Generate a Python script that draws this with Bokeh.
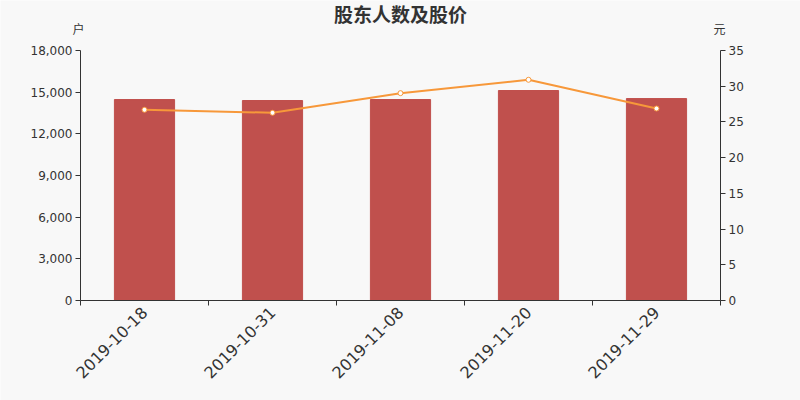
import numpy as np
from bokeh.plotting import figure
from bokeh.models import (Range1d, LinearAxis, FixedTicker, NumeralTickFormatter, Label)
from bokeh.embed import file_html
from bokeh.resources import INLINE

title_text = "股东人数及股价"
left_unit = "户"
right_unit = "元"
dates = ["2019-10-18", "2019-10-31", "2019-11-08", "2019-11-20", "2019-11-29"]
holders = [14470, 14400, 14470, 15120, 14540]
prices = [26.7, 26.28, 29.03, 30.9, 26.88]
left_ticks = [0, 3000, 6000, 9000, 12000, 15000, 18000]
right_ticks = [0, 5, 10, 15, 20, 25, 30, 35]

n = len(dates)
xc = [i + 0.5 for i in range(n)]

BG = "#f8f8f8"
AX = "#333333"
FONT = "DejaVu Sans"
CJK = "Noto Sans CJK SC"

LMAX, RMAX = 18000, 35
PX_L = LMAX / 250.0
PX_R = RMAX / 250.0
PX_X = n / 640.0

p = figure(width=800, height=400, output_backend="svg", toolbar_location=None,
           x_range=Range1d(-80 * PX_X, n + 80 * PX_X),
           y_range=Range1d(-100 * PX_L, LMAX + 50 * PX_L),
           min_border_left=0, min_border_right=0, min_border_top=0, min_border_bottom=0,
           background_fill_color=BG, border_fill_color=BG, outline_line_color=None)
p.xaxis.visible = False
p.yaxis.visible = False
p.xgrid.visible = False
p.ygrid.visible = False
p.extra_y_ranges = {"right": Range1d(-100 * PX_R, RMAX + 50 * PX_R)}

xt = FixedTicker(ticks=xc, minor_ticks=list(range(n + 1)))
xa = LinearAxis(ticker=xt, major_label_overrides={x: d for x, d in zip(xc, dates)},
                bounds=(0, n), fixed_location=0,
                major_label_orientation=np.pi / 4, major_tick_out=0, major_tick_in=0,
                minor_tick_out=5, minor_tick_in=0, minor_tick_line_color=AX,
                axis_line_color=AX, major_label_text_font=FONT,
                major_label_text_font_size="16px", major_label_text_color=AX,
                major_label_standoff=4)
p.add_layout(xa, "below")

la = LinearAxis(ticker=FixedTicker(ticks=left_ticks), formatter=NumeralTickFormatter(format="0,0"),
                bounds=(0, LMAX), fixed_location=0,
                major_tick_out=5, major_tick_in=0, minor_tick_line_color=None,
                axis_line_color=AX, major_tick_line_color=AX,
                major_label_text_font=FONT, major_label_text_font_size="12px",
                major_label_text_color=AX, major_label_standoff=3)
p.add_layout(la, "left")

ra = LinearAxis(y_range_name="right", ticker=FixedTicker(ticks=right_ticks), bounds=(0, RMAX),
                fixed_location=n,
                major_tick_out=5, major_tick_in=0, minor_tick_line_color=None,
                axis_line_color=AX, major_tick_line_color=AX,
                major_label_text_font=FONT, major_label_text_font_size="12px",
                major_label_text_color=AX, major_label_standoff=3)
p.add_layout(ra, "right")

p.vbar(x=xc, top=holders, bottom=0, width=0.47, color="#c0504d")
p.line(x=xc, y=prices, y_range_name="right", line_color="#f7983a", line_width=2)
p.scatter(x=xc, y=prices, y_range_name="right", size=5, fill_color="white",
          line_color="#f7983a", line_width=1)

p.add_layout(Label(x=n / 2, y=LMAX + 37 * PX_L, text=title_text, text_font=CJK,
                   text_font_size="19px", text_font_style="bold", text_color=AX,
                   text_align="center", text_baseline="middle"))
p.add_layout(Label(x=0, y=LMAX + 22 * PX_L, text=left_unit, text_font=CJK,
                   text_font_size="12px", text_color=AX, text_align="center",
                   text_baseline="middle", x_offset=-2))
p.add_layout(Label(x=n, y=RMAX + 22 * PX_R, y_range_name="right", text=right_unit,
                   text_font=CJK, text_font_size="12px", text_color=AX,
                   text_align="center", text_baseline="middle", x_offset=-1))

open("out.html", "w").write(file_html(p, INLINE))
